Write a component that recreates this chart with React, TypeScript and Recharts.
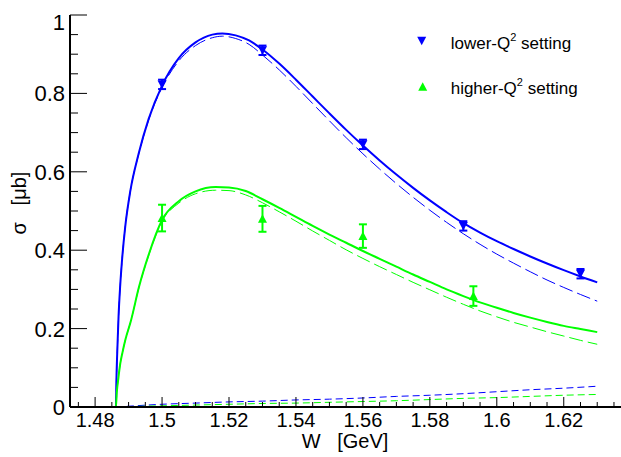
import React from 'react';
import { ComposedChart, Line, Scatter, XAxis, YAxis, ErrorBar, Legend } from 'recharts';

const FONT = '"Liberation Sans", Arial, Helvetica, sans-serif';
const BLUE = '#0000ff';
const GREEN = '#00ff00';

// measured points
const lowerW = [1.5, 1.53, 1.56, 1.59, 1.625];
const lowerSigma = [0.823, 0.91, 0.67, 0.462, 0.34];
const lowerErr = [0.012, 0.012, 0.012, 0.012, 0.012];

const higherW = [1.5, 1.53, 1.56, 1.593];
const higherSigma = [0.482, 0.48, 0.436, 0.283];
const higherErr = [0.034, 0.033, 0.03, 0.025];

// model curves, lower-Q2
const blueW = [1.4795, 1.4862, 1.4864, 1.4867, 1.487, 1.4875, 1.488, 1.489, 1.4905, 1.493, 1.496, 1.5, 1.505, 1.51, 1.515, 1.518, 1.522, 1.526, 1.53, 1.535, 1.54, 1.545, 1.55, 1.555, 1.56, 1.565, 1.57, 1.575, 1.58, 1.585, 1.59, 1.595, 1.6, 1.605, 1.61, 1.615, 1.62, 1.625, 1.63];
const blueFull = [0, 0, 0.08, 0.16, 0.23, 0.31, 0.37, 0.46, 0.55, 0.646, 0.735, 0.82, 0.89, 0.93, 0.95, 0.953, 0.948, 0.935, 0.912, 0.876, 0.835, 0.792, 0.749, 0.707, 0.667, 0.629, 0.593, 0.559, 0.527, 0.497, 0.469, 0.445, 0.423, 0.403, 0.384, 0.366, 0.349, 0.333, 0.318];
const blueAlt = [0, 0, 0.08, 0.16, 0.23, 0.31, 0.37, 0.46, 0.55, 0.644, 0.732, 0.815, 0.883, 0.922, 0.942, 0.946, 0.94, 0.925, 0.898, 0.86, 0.818, 0.774, 0.73, 0.687, 0.646, 0.607, 0.57, 0.535, 0.502, 0.471, 0.442, 0.415, 0.39, 0.367, 0.345, 0.324, 0.305, 0.287, 0.27];

// model curves, higher-Q2
const greenW = [1.4795, 1.4862, 1.4865, 1.4869, 1.4875, 1.4882, 1.489, 1.4907, 1.4931, 1.4961, 1.5, 1.505, 1.51, 1.516, 1.52, 1.525, 1.53, 1.535, 1.54, 1.545, 1.55, 1.555, 1.56, 1.565, 1.57, 1.575, 1.58, 1.585, 1.59, 1.595, 1.6, 1.605, 1.61, 1.615, 1.62, 1.625, 1.63];
const greenFull = [0, 0, 0.04, 0.07, 0.11, 0.14, 0.17, 0.22, 0.306, 0.391, 0.477, 0.525, 0.55, 0.561, 0.56, 0.551, 0.53, 0.508, 0.485, 0.462, 0.44, 0.419, 0.398, 0.378, 0.358, 0.338, 0.319, 0.3, 0.283, 0.267, 0.253, 0.24, 0.228, 0.217, 0.207, 0.199, 0.191];
const greenAlt = [0, 0, 0.04, 0.07, 0.11, 0.14, 0.17, 0.22, 0.305, 0.389, 0.474, 0.52, 0.544, 0.553, 0.552, 0.541, 0.521, 0.498, 0.474, 0.449, 0.425, 0.401, 0.379, 0.358, 0.338, 0.318, 0.299, 0.28, 0.262, 0.245, 0.23, 0.216, 0.204, 0.192, 0.181, 0.17, 0.16];

// small background contributions
const bkgW = [1.4862, 1.49, 1.5, 1.51, 1.52, 1.53, 1.54, 1.55, 1.56, 1.57, 1.58, 1.59, 1.6, 1.61, 1.62, 1.63];
const bkgLower = [0, 0.002, 0.007, 0.01, 0.013, 0.015, 0.018, 0.02, 0.023, 0.027, 0.03, 0.034, 0.039, 0.044, 0.048, 0.053];
const bkgHigher = [0, 0.001, 0.003, 0.005, 0.007, 0.009, 0.01, 0.012, 0.014, 0.016, 0.019, 0.022, 0.024, 0.027, 0.03, 0.032];

const xMajor = [1.48, 1.5, 1.52, 1.54, 1.56, 1.58, 1.6, 1.62];
const xTicks = [1.475, 1.48, 1.485, 1.49, 1.495, 1.5, 1.505, 1.51, 1.515, 1.52, 1.525, 1.53, 1.535, 1.54, 1.545, 1.55, 1.555, 1.56, 1.565, 1.57, 1.575, 1.58, 1.585, 1.59, 1.595, 1.6, 1.605, 1.61, 1.615, 1.62, 1.625, 1.63, 1.635];
const yMajor = [0, 0.2, 0.4, 0.6, 0.8, 1];
const yTicks = [0, 0.05, 0.1, 0.15, 0.2, 0.25, 0.3, 0.35, 0.4, 0.45, 0.5, 0.55, 0.6, 0.65, 0.7, 0.75, 0.8, 0.85, 0.9, 0.95, 1];

const curve = (ws: number[], vs: number[]) => ws.map((w, i) => ({ w, s: vs[i] }));
const points = (ws: number[], vs: number[], es: number[]) => ws.map((w, i) => ({ w, s: vs[i], err: es[i] }));

const XTick = (props: any) => {
  const { x, y, payload } = props;
  const major = xMajor.includes(payload.value);
  return (
    <g>
      <line x1={x} x2={x} y1={y} y2={y - (major ? 10 : 5)} stroke="#000" strokeWidth={1} />
      {major && (
        <text x={x} y={y + 20} textAnchor="middle" fontSize={20} fontFamily={FONT} fill="#000">
          {String(payload.value)}
        </text>
      )}
    </g>
  );
};

const YTick = (props: any) => {
  const { x, y, payload } = props;
  const major = yMajor.includes(payload.value);
  const shift = payload.value === 1 ? 7 : 0;
  return (
    <g>
      <line x1={x} x2={x + (major ? 17 : 8)} y1={y} y2={y} stroke="#000" strokeWidth={1} />
      {major && (
        <text x={x - 5} y={y + 8 + shift} textAnchor="end" fontSize={22} fontFamily={FONT} fill="#000">
          {String(payload.value)}
        </text>
      )}
    </g>
  );
};

const Tri = ({ cx, cy, color, down }: any) => {
  if (cx == null || cy == null) return null;
  const pts = down
    ? `${cx - 4.5},${cy - 4} ${cx + 4.5},${cy - 4} ${cx},${cy + 4.5}`
    : `${cx - 4.5},${cy + 4} ${cx + 4.5},${cy + 4} ${cx},${cy - 4.5}`;
  return <polygon points={pts} fill={color} />;
};

const LegendBox = () => (
  <svg width={200} height={80} style={{ display: 'block' }}>
    <Tri cx={11.7} cy={15.7} color={BLUE} down />
    <text x={40.7} y={24} fontSize={17} fontFamily={FONT} fill="#000">
      lower-Q<tspan fontSize={11} dy={-8}>2</tspan>
      <tspan dy={8}> setting</tspan>
    </text>
    <Tri cx={12.7} cy={61.7} color={GREEN} />
    <text x={40.7} y={69} fontSize={17} fontFamily={FONT} fill="#000">
      higher-Q<tspan fontSize={11} dy={-8}>2</tspan>
      <tspan dy={8}> setting</tspan>
    </text>
  </svg>
);

const XTitle = (props: any) => {
  const vb = props.viewBox || {};
  return (
    <text x={vb.x + 275} y={448} textAnchor="middle" fontSize={20} fontFamily={FONT} fill="#000" style={{ whiteSpace: 'pre' }}>
      {'W   [GeV]'}
    </text>
  );
};

const YTitle = () => (
  <text x={26} y={203} transform="rotate(-90 26 203)" textAnchor="middle" fontSize={20} fontFamily={FONT} fill="#000" style={{ whiteSpace: 'pre' }}>
    {'σ   [μb]'}
  </text>
);

export default function App() {
  return (
    <div style={{ position: 'absolute', left: 0, top: 0, width: 621, height: 457, background: '#fff' }}>
      <ComposedChart width={621} height={457} margin={{ top: 15, right: 0, bottom: 0, left: 0 }}>
        <XAxis
          type="number"
          dataKey="w"
          domain={[1.4725, 1.6371]}
          allowDataOverflow
          ticks={xTicks}
          interval={0}
          tick={<XTick />}
          tickLine={false}
          tickSize={0}
          tickMargin={0}
          height={50}
          axisLine={{ stroke: '#000', strokeWidth: 2 }}
          label={<XTitle />}
        />
        <YAxis
          type="number"
          domain={[0, 1]}
          allowDataOverflow
          ticks={yTicks}
          interval={0}
          tick={<YTick />}
          tickLine={false}
          tickSize={0}
          tickMargin={0}
          width={70}
          axisLine={{ stroke: '#000', strokeWidth: 2 }}
          label={<YTitle />}
        />
        <Legend
          layout="horizontal"
          verticalAlign="middle"
          wrapperStyle={{ position: 'absolute', left: 410, top: 25, width: 200, height: 80 }}
          content={() => <LegendBox />}
        />
        <Line data={curve(bkgW, bkgLower)} dataKey="s" type="monotone" stroke={BLUE} strokeWidth={1} strokeDasharray="7 4" dot={false} activeDot={false} isAnimationActive={false} />
        <Line data={curve(bkgW, bkgHigher)} dataKey="s" type="monotone" stroke={GREEN} strokeWidth={1} strokeDasharray="7 4" dot={false} activeDot={false} isAnimationActive={false} />
        <Line data={curve(blueW, blueAlt)} dataKey="s" type="monotone" stroke={BLUE} strokeWidth={1} strokeDasharray="14 5" dot={false} activeDot={false} isAnimationActive={false} />
        <Line data={curve(greenW, greenAlt)} dataKey="s" type="monotone" stroke={GREEN} strokeWidth={1} strokeDasharray="14 5" dot={false} activeDot={false} isAnimationActive={false} />
        <Line data={curve(blueW, blueFull)} dataKey="s" type="monotone" stroke={BLUE} strokeWidth={2} dot={false} activeDot={false} isAnimationActive={false} />
        <Line data={curve(greenW, greenFull)} dataKey="s" type="monotone" stroke={GREEN} strokeWidth={2} dot={false} activeDot={false} isAnimationActive={false} />
        <Scatter
          data={points(lowerW, lowerSigma, lowerErr)}
          dataKey="s"
          isAnimationActive={false}
          shape={(p: any) => <Tri cx={p.cx} cy={p.cy} color={BLUE} down />}
        >
          <ErrorBar dataKey="err" direction="y" width={4} stroke={BLUE} strokeWidth={2} />
        </Scatter>
        <Scatter
          data={points(higherW, higherSigma, higherErr)}
          dataKey="s"
          isAnimationActive={false}
          shape={(p: any) => <Tri cx={p.cx} cy={p.cy} color={GREEN} />}
        >
          <ErrorBar dataKey="err" direction="y" width={4} stroke={GREEN} strokeWidth={2} />
        </Scatter>
      </ComposedChart>
    </div>
  );
}
